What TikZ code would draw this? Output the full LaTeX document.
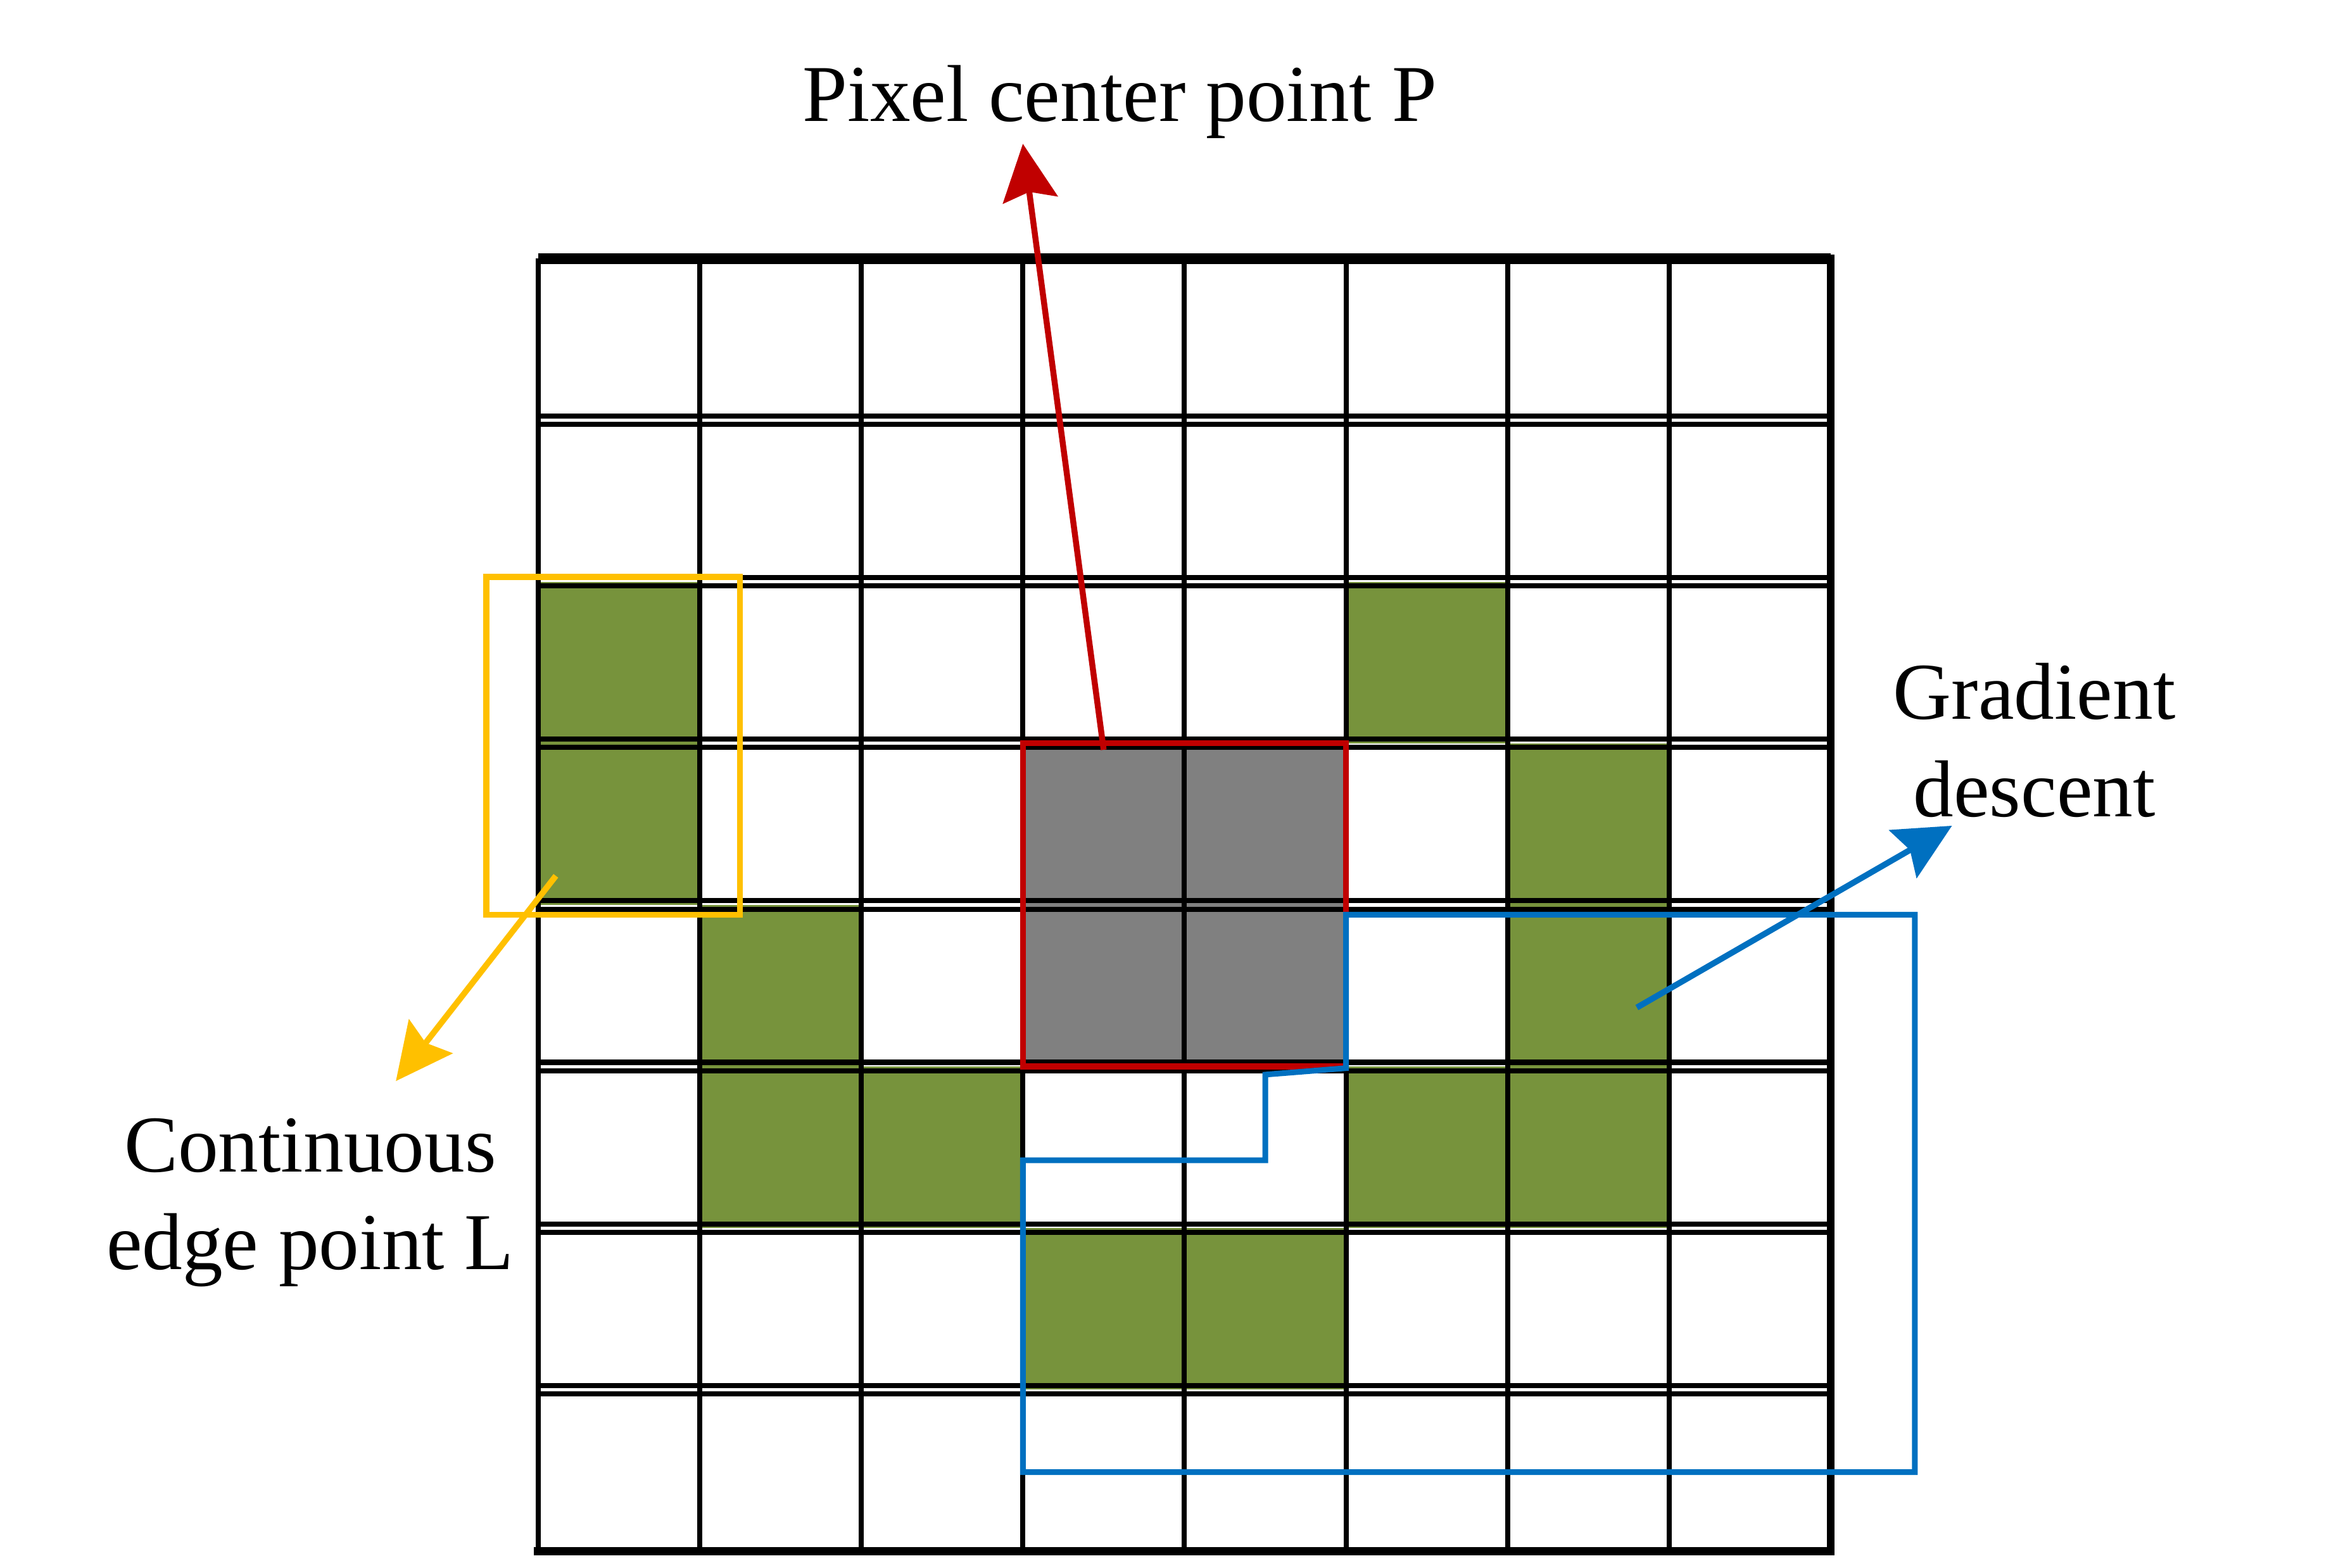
\documentclass[tikz,border=0pt]{standalone}
\usepackage{fontspec}
\setmainfont{Liberation Serif}
\usetikzlibrary{arrows.meta}

\definecolor{edgegreen}{HTML}{77933C}
\definecolor{centergray}{HTML}{808080}
\definecolor{pixred}{HTML}{C00000}
\definecolor{edgeyellow}{HTML}{FFC000}
\definecolor{gradblue}{HTML}{0070C0}

\begin{document}
\begin{tikzpicture}[
  gridline/.style={line width=0.9pt},
  pointer/.style={line width=1.05pt,-{Stealth[length=0.35cm,width=0.34cm,inset=0.05cm]}},
  lbl/.style={inner sep=0pt,align=center,font=\fontsize{14.2}{17.2}\selectfont}
]
\useasboundingbox (-3.33,-0.10) rectangle (11.17,9.60);
% pixels
\foreach \x/\y in {0/5,5/5,0/4,6/4,1/3,6/3,1/2,2/2,5/2,6/2,3/1,4/1}
  \fill[edgegreen] (\x,\y) rectangle ++(1,1);
\fill[centergray] (3,3) rectangle (5,5);
% grid
\foreach \x in {0,...,7}
  \draw[gridline] (\x,0) -- (\x,8);
\foreach \y in {1,...,7}{
  \draw[gridline] (0,\y-0.026) -- (8,\y-0.026);
  \draw[gridline] (0,\y+0.026) -- (8,\y+0.026);
}
\draw[line width=1.9pt] (0,8) -- (8,8);
\draw[line width=1.4pt,line cap=rect] (8,8) -- (8,0) -- (0,0);
% windows
\draw[pixred,line width=1.05pt] (3,3) rectangle (5,5);
\draw[edgeyellow,line width=1.05pt] (-0.32,3.94) rectangle (1.25,6.03);
\draw[gradblue,line width=1pt] (5,3.94) -- (8.52,3.94) -- (8.52,0.49) -- (3,0.49) -- (3,2.42)
  -- (4.5,2.42) -- (4.5,2.95) -- (5,2.99) -- cycle;
% labels
\node[lbl,anchor=base] (pixeltext) at (3.60,8.85) {Pixel center point P};
\node[lbl,anchor=base] (edgetext) at (-1.41,1.745) {Continuous\\edge point L};
\node[lbl,anchor=base] (gradtext) at (9.26,4.545) {Gradient\\descent};
% arrows
\coordinate (pstart) at (3.50,4.96);
\coordinate (ptip) at (3.00,8.71);
\coordinate (lstart) at (0.11,4.18);
\coordinate (ltip) at (-0.88,2.91);
\coordinate (gstart) at (6.80,3.365);
\coordinate (gtip) at (8.75,4.49);
\draw[pointer,pixred] (pstart) -- (ptip);
\draw[pointer,edgeyellow] (lstart) -- (ltip);
\draw[pointer,gradblue] (gstart) -- (gtip);
\end{tikzpicture}
\end{document}
